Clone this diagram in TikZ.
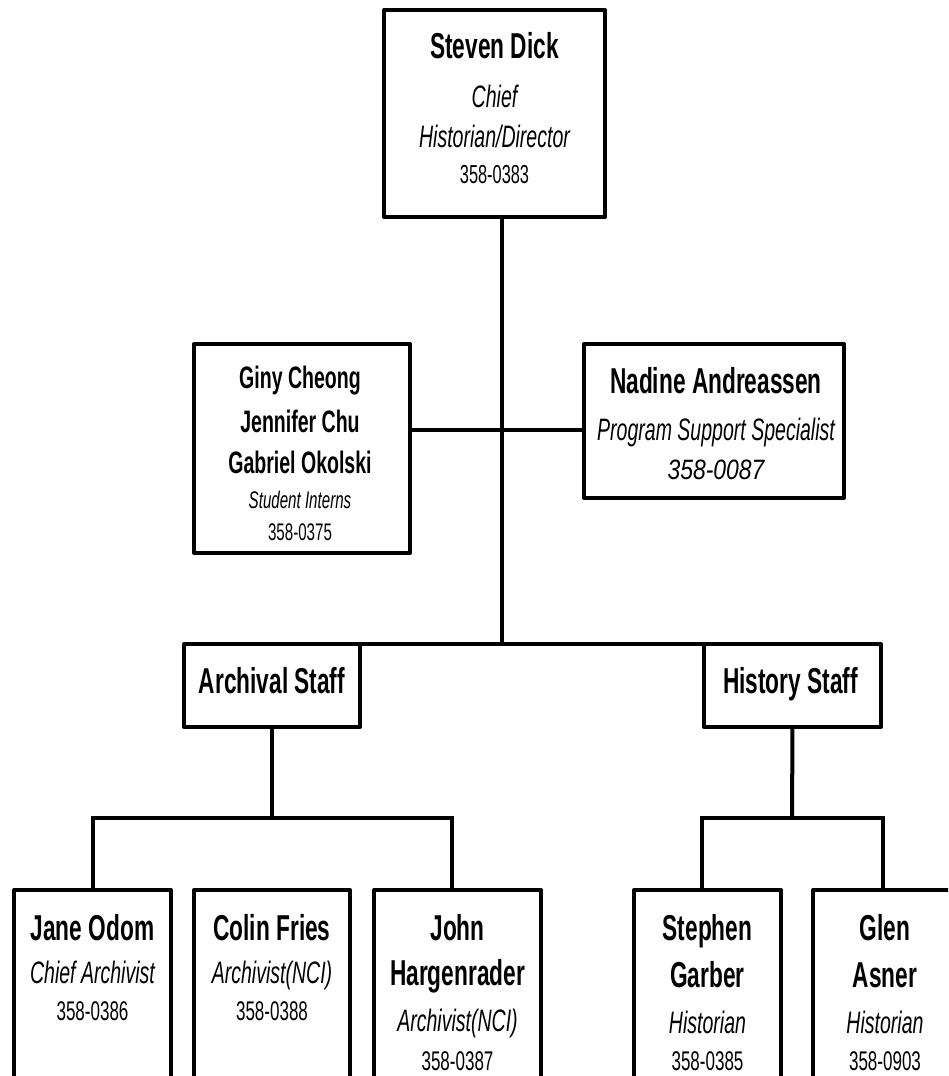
\documentclass[tikz,border=0pt]{standalone}
\usepackage{fontspec}
\setmainfont{Liberation Sans}[FakeStretch=0.63]
\usepackage{graphicx}
\usetikzlibrary{positioning}

\newcommand{\nm}[1]{{\fontsize{36}{40}\selectfont\bfseries #1}}
\newcommand{\rl}[1]{{\fontsize{31}{40}\selectfont\itshape #1}}
\newcommand{\ph}[1]{{\fontsize{27}{40}\selectfont #1}}

\begin{document}
\begin{tikzpicture}[
    x=1pt, y=-1pt,
    box/.style={draw, line width=4pt, line join=round, outer sep=0pt,
                inner sep=0pt},
    leaf/.style={box, anchor=north, minimum height=300pt},
    txt/.style={inner sep=0pt, align=center,
                font=\fontsize{30}{44}\selectfont},
    wire/.style={line width=4pt}
  ]
  \useasboundingbox (0,0) rectangle (948,1076);
  \clip (0,0) rectangle (948,1076);

  % director
  \node[box, minimum width=221pt, minimum height=207pt] (chief) at (494.5,113.5) {};
  \node[txt, font=\fontsize{30}{40}\selectfont, below=22pt of chief.north] (chief-t)
    {\nm{Steven Dick}\\[9pt] \rl{Chief}\\ \rl{Historian/Director}\\[-4pt]
     {\fontsize{26}{40}\selectfont 358-0383}};

  % second row
  \node[box, minimum width=216pt, minimum height=209pt] (interns) at (302,448.5) {};
  \node[txt, font=\fontsize{24}{40}\selectfont, below=21.5pt of interns.north, xshift=-2pt] (interns-t)
    {{\fontsize{31}{40}\selectfont\bfseries Giny Cheong}\\[4pt]
     {\fontsize{31}{40}\selectfont\bfseries Jennifer Chu}\\[1pt]
     {\fontsize{31}{40}\selectfont\bfseries Gabriel Okolski}\\[-5pt]
     {\itshape Student Interns}\\[-8pt] 358-0375};

  \node[box, minimum width=260pt, minimum height=154pt] (nadine) at (714,421) {};
  \node[txt, font=\fontsize{30}{40}\selectfont, below=23pt of nadine.north, xshift=2pt] (nadine-t)
    {\nm{Nadine Andreassen}\\[7pt] \rl{Program Support Specialist}\\[-1pt]
     \scalebox{1.3}[1]{\fontsize{28}{40}\selectfont\itshape 358-0087}};

  % staff groups
  \node[box, minimum width=176pt, minimum height=83pt] (archival) at (272,685.5) {};
  \node[txt, below=23pt of archival.north] (archival-t) {\nm{Archival Staff}};
  \node[box, minimum width=177pt, minimum height=83pt] (history) at (792.5,685.5) {};
  \node[txt, below=23pt of history.north, xshift=-2pt] (history-t) {\nm{History Staff}};

  % bottom row
  \node[leaf, minimum width=157pt] (jane) at (92.5,890) {};
  \node[leaf, minimum width=156pt] (colin) at (272,890) {};
  \node[leaf, minimum width=167pt] (john) at (457.5,890) {};
  \node[leaf, minimum width=147pt] (stephen) at (707.5,890) {};
  \node[leaf, minimum width=144pt] (glen) at (885,890) {};

  \node[txt, below=24pt of jane.north] (jane-t)
    {\nm{Jane Odom}\\[-1pt] \rl{Chief Archivist}\\[-7pt] \ph{358-0386}};
  \node[txt, below=24pt of colin.north] (colin-t)
    {\nm{Colin Fries}\\[-1pt] \rl{Archivist(NCI)}\\[-7pt] \ph{358-0388}};
  \node[txt, below=24pt of john.north] (john-t)
    {\nm{John}\\[1pt] \nm{Hargenrader}\\[2pt] \rl{Archivist(NCI)}\\[-5pt] \ph{358-0387}};
  \node[txt, below=24pt of stephen.north] (stephen-t)
    {\nm{Stephen}\\[3pt] \nm{Garber}\\[2pt] \rl{Historian}\\[-7pt] \ph{358-0385}};
  \node[txt, below=24pt of glen.north] (glen-t)
    {\nm{Glen}\\[3pt] \nm{Asner}\\[2pt] \rl{Historian}\\[-7pt] \ph{358-0903}};

  % connectors
  \coordinate (spine) at (502,644);
  \coordinate (mid) at (502,430);
  \coordinate (abar) at (272,818);
  \coordinate (hbar) at (792,818);

  \draw[wire] (chief.south -| spine) -- (spine);
  \draw[wire] (interns.east |- mid) -- (nadine.west |- mid);
  \draw[wire] (archival.north east) -- (history.north west);
  \draw[wire] (archival.south) -- (abar);
  \draw[wire] (jane.north) |- ([xshift=-5.5pt]john.north |- abar)
    -- ([xshift=-5.5pt]john.north);
  \draw[wire] (history.south) -- (hbar);
  \draw[wire] ([xshift=-5.5pt]stephen.north) |- ([xshift=-2pt]glen.north |- hbar)
    -- ([xshift=-2pt]glen.north);
\end{tikzpicture}
\end{document}
